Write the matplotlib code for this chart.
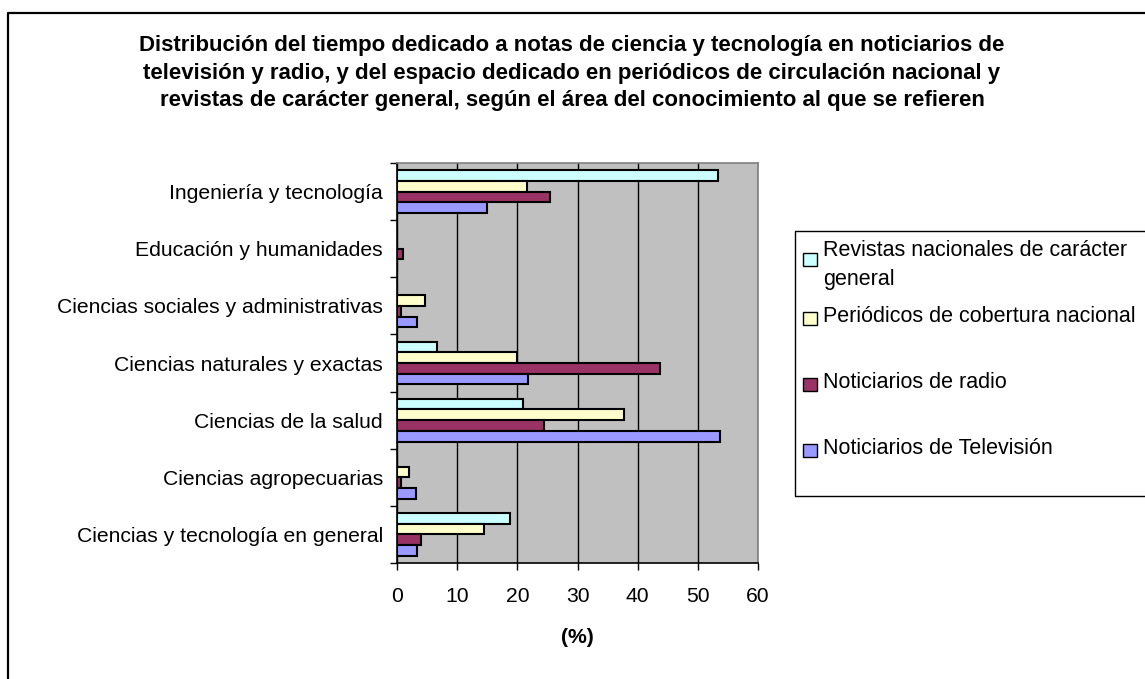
import matplotlib
matplotlib.use("Agg")
import matplotlib.pyplot as plt
import numpy as np
from matplotlib.patches import Rectangle
from matplotlib.lines import Line2D

plt.rcParams['font.family'] = ['Liberation Sans', 'DejaVu Sans']

categories = [
    "Ingeniería y tecnología",
    "Educación y humanidades",
    "Ciencias sociales y administrativas",
    "Ciencias naturales y exactas",
    "Ciencias de la salud",
    "Ciencias agropecuarias",
    "Ciencias y tecnología en general",
]
series_names = [
    "Revistas nacionales de carácter\ngeneral",
    "Periódicos de cobertura nacional",
    "Noticiarios de radio",
    "Noticiarios de Televisión",
]
revistas = [53.3, 0.0, 0.0, 6.7, 21.0, 0.0, 18.8]
periodicos = [21.6, 0.0, 4.7, 20.0, 37.7, 2.0, 14.4]
radio = [25.4, 1.0, 0.7, 43.7, 24.4, 0.7, 4.0]
television = [15.0, 0.0, 3.4, 21.7, 53.7, 3.1, 3.4]
colors = ["#CCFFFF", "#FFFFCC", "#993366", "#9999FF"]
xticks = [0, 10, 20, 30, 40, 50, 60]

title = ("Distribución del tiempo dedicado a notas de ciencia y tecnología en noticiarios de\n"
         "televisión y radio, y del espacio dedicado en periódicos de circulación nacional y\n"
         "revistas de carácter general, según el área del conocimiento al que se refieren")

FS = 15.2
W, H = 1145, 679
fig = plt.figure(figsize=(W / 100, H / 100), dpi=100)
fig.patch.set_facecolor("white")


def fx(px):
    return px / W


def fy(py):
    return 1 - py / H


# outer border (top and left visible)
fig.add_artist(Line2D([fx(7.5), fx(7.5), fx(1150)], [fy(690), fy(13), fy(13)],
                      transform=fig.transFigure, color="black", linewidth=1.6))

ax = fig.add_axes([fx(397), fy(563), (758 - 397) / W, (563 - 163) / H])
ax.set_facecolor("#C0C0C0")

y = np.arange(len(categories))
h = 0.187
data = [revistas, periodicos, radio, television]
for k, (vals, c) in enumerate(zip(data, colors)):
    off = (k - 1.5) * h
    ax.barh(y + off, vals, height=h, color=c, edgecolor="black", linewidth=1.5, zorder=3)

ax.set_xlim(0, 60)
ax.set_ylim(len(categories) - 0.5, -0.5)
ax.set_xticks(xticks)
ax.set_xticklabels([str(t) for t in xticks], fontsize=FS)
ax.xaxis.grid(True, color="black", linewidth=1.0, zorder=1)
ax.set_axisbelow(True)

ax.set_yticks(np.arange(len(categories) + 1) - 0.5)
ax.set_yticklabels([])
ax.set_yticks(y, minor=True)
ax.set_yticklabels(categories, minor=True, fontsize=FS)
ax.tick_params(axis="y", which="minor", length=0, pad=10)
ax.tick_params(axis="y", which="major", length=5, direction="out", width=1)
ax.tick_params(axis="x", length=5, direction="out", width=1, pad=12)

for s in ["left", "bottom"]:
    ax.spines[s].set_color("black")
    ax.spines[s].set_linewidth(1.2)
for s in ["top", "right"]:
    ax.spines[s].set_color("#808080")
    ax.spines[s].set_linewidth(1.2)

ax.set_xlabel("(%)", fontsize=FS, fontweight="bold", labelpad=16)

fig.text(fx(572), fy(73), title, ha="center", va="center", fontsize=16,
         fontweight="bold", linespacing=1.42)

# legend box (extends past right edge like the reference)
lx0, ly0, lx1, ly1 = 795, 231, 1160, 496
fig.add_artist(Rectangle((fx(lx0), fy(ly1)), (lx1 - lx0) / W, (ly1 - ly0) / H,
                         transform=fig.transFigure, facecolor="white", edgecolor="black",
                         linewidth=1.0))
square_y = [260, 318, 385, 450]
text_y = [251, 316, 382, 448]
for name, c, sy, ty in zip(series_names, colors, square_y, text_y):
    fig.add_artist(Rectangle((fx(803), fy(sy + 6.5)), 14 / W, 13 / H,
                             transform=fig.transFigure, facecolor=c, edgecolor="black",
                             linewidth=1.0))
    lines = name.split("\n")
    for j, ln in enumerate(lines):
        fig.text(fx(823), fy(ty + j * 28), ln, ha="left", va="center", fontsize=15.5)

fig.savefig("out.png", dpi=100)
